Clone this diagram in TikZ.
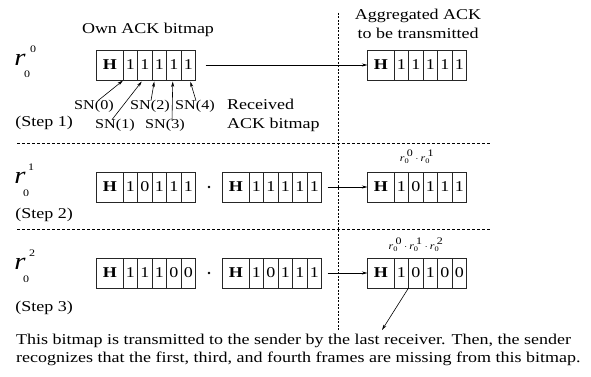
\documentclass[tikz,border=0pt]{standalone}
\usepackage{fontspec}
\usepackage{amsmath}
\setmainfont{Liberation Serif}[FakeStretch=1.2]
\usetikzlibrary{arrows.meta}
\tikzset{
  lbl/.style={font=\fontsize{15}{19}\selectfont, inner sep=0pt},
  snlbl/.style={font=\fontsize{13.5}{16}\selectfont, inner sep=0pt},
  cellbase/.style={draw=black!85, line width=0.7pt, inner sep=0pt, outer sep=0pt,
    minimum height=30pt, font=\fontsize{15}{18}\selectfont},
  hcell/.style={cellbase, minimum width=26.5pt, font=\fontsize{15}{18}\selectfont\bfseries},
  bcell/.style={cellbase, minimum width=14.5pt},
  arr/.style={-{Stealth[length=5.5pt,width=3pt]}, line width=0.6pt},
  hsep/.style={dash pattern=on 3pt off 2pt, line width=0.6pt},
  vsep/.style={dash pattern=on 2pt off 1.5pt, line width=0.5pt},
  rbig/.style={font=\fontsize{24}{24}\selectfont\itshape, inner sep=0pt},
  rsmall/.style={font=\fontsize{10}{10}\selectfont, inner sep=0pt},
  tinylbl/.style={font=\fontsize{10}{10}\selectfont, inner sep=0pt},
  dotnode/.style={circle, fill, inner sep=0pt, minimum size=2.8pt},
}
\newcommand\bitmap[8]{%
  \node[hcell,anchor=north west] (#1h) at (#2,#3) {H};
  \node[bcell,anchor=west] (#1a) at (#1h.east) {#4};
  \node[bcell,anchor=west] (#1b) at (#1a.east) {#5};
  \node[bcell,anchor=west] (#1c) at (#1b.east) {#6};
  \node[bcell,anchor=west] (#1d) at (#1c.east) {#7};
  \node[bcell,anchor=west] (#1e) at (#1d.east) {#8};
}
\newcommand\rr[1]{\textit{r}_{\text{0}}^{\;\raisebox{1pt}{\text{#1}}}}
\begin{document}
\begin{tikzpicture}[x=1pt,y=-1pt]
\useasboundingbox (0,0) rectangle (591,377);

% separators
\coordinate (h1l) at (17,143); \coordinate (h1r) at (491,143);
\coordinate (h2l) at (17,229); \coordinate (h2r) at (491,229);
\coordinate (vtop) at (338,13); \coordinate (vbot) at (338,330);
\draw[hsep] (h1l) -- (h1r);
\draw[hsep] (h2l) -- (h2r);
\draw[vsep] (vtop) -- (vbot);

% Step 1
\node[lbl] (own) at (148,30) {Own ACK bitmap};
\node[lbl, align=center] (aggl) at (418,23.5) {Aggregated ACK\\to be transmitted};
\node[rbig] (r0) at (20,60) {r};
\node[rsmall] (r0sup) at (33,49) {0};
\node[rsmall] (r0sub) at (27,74.5) {0};
\bitmap{sa}{96.5}{50}{1}{1}{1}{1}{1}
\bitmap{sg}{367.5}{50}{1}{1}{1}{1}{1}
\draw[arr] ([xshift=10pt]sae.east) -- (sgh.west);
\node[snlbl] (sn0) at (94,106) {SN(0)};
\node[snlbl] (sn1) at (115,125) {SN(1)};
\node[snlbl] (sn2) at (150,106) {SN(2)};
\node[snlbl] (sn3) at (165,125) {SN(3)};
\node[snlbl] (sn4) at (195,106) {SN(4)};
\node[lbl, align=left, anchor=west] (recv) at (227,115.5) {Received\\ACK bitmap};
\node[lbl] (st1) at (44,123) {(Step 1)};
\coordinate (t0) at ([yshift=-0.5pt]sah.south east);
\coordinate (t1) at ([xshift=-3pt,yshift=-1.5pt]sab.south);
\coordinate (t2) at ([xshift=-5pt,yshift=-1.5pt]sac.south);
\coordinate (t3) at ([xshift=-1pt,yshift=-1.5pt]sad.south);
\coordinate (t4) at ([xshift=2pt,yshift=-1.5pt]sae.south);
\draw[arr] ([xshift=4pt,yshift=-1pt]sn0.north) -- (t0);
\draw[arr] ([xshift=-3pt,yshift=-1pt]sn1.north) -- (t1);
\draw[arr] ([xshift=1pt,yshift=-1pt]sn2.north) -- (t2);
\draw[arr] ([xshift=7pt,yshift=-2pt]sn3.north) -- (t3);
\draw[arr] ([xshift=1pt,yshift=-1pt]sn4.north) -- (t4);

% Step 2
\node[rbig] (r1) at (20,178) {r};
\node[rsmall] (r1sup) at (31,167) {1};
\node[rsmall] (r1sub) at (26,193) {0};
\bitmap{ta}{96.5}{172}{1}{0}{1}{1}{1}
\node[dotnode] (tdot) at (209,187) {};
\bitmap{tb}{222.5}{172}{1}{1}{1}{1}{1}
\bitmap{tc}{367.5}{172}{1}{0}{1}{1}{1}
\draw[arr] ([xshift=6pt]tbe.east) -- (tch.west);
\node[tinylbl] (tlab) at (417,157) {$\rr{0}\cdot\rr{1}$};
\node[lbl] (st2) at (44,215) {(Step 2)};

% Step 3
\node[rbig] (r2) at (20,264) {r};
\node[rsmall] (r2sup) at (32,253) {2};
\node[rsmall] (r2sub) at (26,279) {0};
\bitmap{ua}{96.5}{258}{1}{1}{1}{0}{0}
\node[dotnode] (udot) at (209,273) {};
\bitmap{ub}{222.5}{258}{1}{0}{1}{1}{1}
\bitmap{uc}{367.5}{258}{1}{0}{1}{0}{0}
\draw[arr] ([xshift=6pt]ube.east) -- (uch.west);
\node[tinylbl] (ulab) at (416,245) {$\rr{0}\cdot\rr{1}\cdot\rr{2}$};
\node[lbl] (st3) at (44,308) {(Step 3)};
\coordinate (misstip) at (382,330);
\draw[arr] (uca.south east) -- (misstip);

\node[lbl, anchor=west] (txt1) at (16,341) {This bitmap is transmitted to the sender by the last receiver. Then, the sender};
\node[lbl, anchor=west] (txt2) at (16,359) {recognizes that the first, third, and fourth frames are missing from this bitmap.};
\end{tikzpicture}
\end{document}
